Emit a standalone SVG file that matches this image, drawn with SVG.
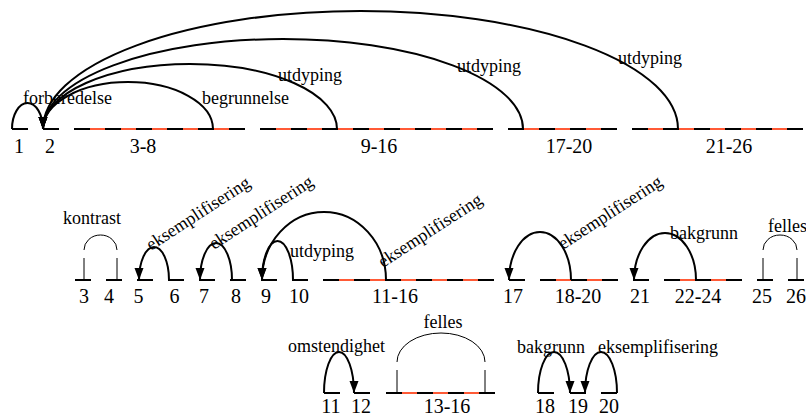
<svg xmlns="http://www.w3.org/2000/svg" width="806" height="417" viewBox="0 0 806 417" font-family="'Liberation Serif', 'Times New Roman', serif">
<style>
text{font-family:'Liberation Serif','Times New Roman',serif;fill:#000}
.lb{font-size:18px}
.nm{font-size:20px;text-anchor:middle}
.seg{stroke:#000;stroke-width:2;fill:none}
.red{stroke:#ff5a36;stroke-width:2;fill:none;stroke-dasharray:15 16}
.arc{stroke:#000;stroke-width:2;fill:none;marker-end:url(#ah)}
.thin{stroke:#000;stroke-width:1;fill:none}
</style>
<defs>
<marker id="ah" markerUnits="userSpaceOnUse" markerWidth="13" markerHeight="10" refX="12" refY="4.5" orient="auto">
<path d="M0,0 L12,4.5 L0,9 z" fill="#000"/>
</marker>
</defs>
<rect width="806" height="417" fill="#fff"/>

<g id="row1">
<g id="n1"><line class="seg" x1="12" y1="129" x2="28" y2="129"/><text class="nm" x="19" y="153">1</text></g>
<g id="n2"><line class="seg" x1="43" y1="129" x2="59" y2="129"/><text class="nm" x="50" y="153">2</text></g>
<g id="n3-8"><line class="seg" x1="74" y1="129" x2="245" y2="129"/><line class="red" x1="90" y1="129" x2="229" y2="129"/><text class="nm" x="143" y="153">3-8</text></g>
<g id="n9-16"><line class="seg" x1="260" y1="129" x2="493" y2="129"/><line class="red" x1="276" y1="129" x2="477" y2="129"/><text class="nm" x="379" y="153">9-16</text></g>
<g id="n17-20"><line class="seg" x1="508" y1="129" x2="617" y2="129"/><line class="red" x1="524" y1="129" x2="601" y2="129"/><text class="nm" x="569" y="153">17-20</text></g>
<g id="n21-26"><line class="seg" x1="632" y1="129" x2="803" y2="129"/><line class="red" x1="648" y1="129" x2="787" y2="129"/><text class="nm" x="729" y="153">21-26</text></g>
</g>

<g id="row2">
<g id="m3"><line class="seg" x1="75" y1="280" x2="91" y2="280"/><text class="nm" x="84" y="303">3</text></g>
<g id="m4"><line class="seg" x1="106" y1="280" x2="122" y2="280"/><text class="nm" x="109" y="303">4</text></g>
<g id="m5"><line class="seg" x1="137" y1="280" x2="153" y2="280"/><text class="nm" x="138.5" y="303">5</text></g>
<g id="m6"><line class="seg" x1="168" y1="280" x2="184" y2="280"/><text class="nm" x="174.5" y="303">6</text></g>
<g id="m7"><line class="seg" x1="199" y1="280" x2="215" y2="280"/><text class="nm" x="204" y="303">7</text></g>
<g id="m8"><line class="seg" x1="230" y1="280" x2="246" y2="280"/><text class="nm" x="236" y="303">8</text></g>
<g id="m9"><line class="seg" x1="261" y1="280" x2="277" y2="280"/><text class="nm" x="266" y="303">9</text></g>
<g id="m10"><line class="seg" x1="292" y1="280" x2="308" y2="280"/><text class="nm" x="299" y="303">10</text></g>
<g id="m11-16"><line class="seg" x1="323" y1="280" x2="494" y2="280"/><line class="red" x1="339" y1="280" x2="478" y2="280"/><text class="nm" x="395" y="303">11-16</text></g>
<g id="m17"><line class="seg" x1="509" y1="280" x2="525" y2="280"/><text class="nm" x="513" y="303">17</text></g>
<g id="m18-20"><line class="seg" x1="540" y1="280" x2="618" y2="280"/><line class="red" x1="556" y1="280" x2="602" y2="280"/><text class="nm" x="578" y="303">18-20</text></g>
<g id="m21"><line class="seg" x1="633" y1="280" x2="649" y2="280"/><text class="nm" x="640" y="303">21</text></g>
<g id="m22-24"><line class="seg" x1="664" y1="280" x2="742" y2="280"/><line class="red" x1="680" y1="280" x2="726" y2="280"/><text class="nm" x="698" y="303">22-24</text></g>
<g id="m25"><line class="seg" x1="757" y1="280" x2="773" y2="280"/><text class="nm" x="762" y="303">25</text></g>
<g id="m26"><line class="seg" x1="788" y1="280" x2="804" y2="280"/><text class="nm" x="796" y="303">26</text></g>
</g>

<g id="row3">
<g id="b11"><line class="seg" x1="324" y1="393" x2="340" y2="393"/><text class="nm" x="331" y="413">11</text></g>
<g id="b12"><line class="seg" x1="354" y1="393" x2="370" y2="393"/><text class="nm" x="361" y="413">12</text></g>
<g id="b13-16"><line class="seg" x1="386" y1="393" x2="495" y2="393"/><line class="red" x1="402" y1="393" x2="479" y2="393"/><text class="nm" x="447" y="413">13-16</text></g>
<g id="b18"><line class="seg" x1="538" y1="393" x2="554" y2="393"/><text class="nm" x="545" y="413">18</text></g>
<g id="b19"><line class="seg" x1="570" y1="393" x2="586" y2="393"/><text class="nm" x="578" y="413">19</text></g>
<g id="b20"><line class="seg" x1="601" y1="393" x2="617" y2="393"/><text class="nm" x="609" y="413">20</text></g>
</g>

<g id="connectors">
<path class="arc" d="M12,129 A15.5,26 0 0 1 43,129"/>
<path class="arc" d="M213,129 A85,47 0 0 0 43,129"/>
<path class="arc" d="M337,129 A147,65 0 0 0 43,129"/>
<path class="arc" d="M523,129 A240,90 0 0 0 43,129"/>
<path class="arc" d="M678,129 A317.5,118 0 0 0 43,129"/>

<line class="thin" x1="84" y1="258" x2="84" y2="280"/>
<line class="thin" x1="117" y1="258" x2="117" y2="280"/>
<path class="thin" d="M84,250 A16.5,15 0 0 1 117,250"/>
<path class="arc" d="M169,280 A15,33 0 0 0 139,280"/>
<path class="arc" d="M232,280 A16,37 0 0 0 200,280"/>
<path class="arc" d="M293,280 A15.5,39 0 0 0 262,280"/>
<path class="arc" d="M386,280 A62,68 0 0 0 262,280"/>
<path class="arc" d="M571,280 A31,48 0 0 0 509,280"/>
<path class="arc" d="M696,280 A31,47 0 0 0 634,280"/>
<line class="thin" x1="763" y1="258" x2="763" y2="280"/>
<line class="thin" x1="797" y1="258" x2="797" y2="280"/>
<path class="thin" d="M763,250 A17,15 0 0 1 797,250"/>

<path class="arc" d="M324,393 A15,41 0 0 1 354,393"/>
<line class="thin" x1="397" y1="370" x2="397" y2="393"/>
<line class="thin" x1="485" y1="370" x2="485" y2="393"/>
<path class="thin" d="M397,362 A44,29 0 0 1 485,362"/>
<path class="arc" d="M538,393 A16,41 0 0 1 570,393"/>
<path class="arc" d="M617,393 A16,41 0 0 0 585,393"/>
</g>

<g id="labels">
<text class="lb" x="23" y="104">forberedelse</text>
<text class="lb" x="202" y="104">begrunnelse</text>
<text class="lb" x="278" y="81">utdyping</text>
<text class="lb" x="457" y="72">utdyping</text>
<text class="lb" x="618" y="64">utdyping</text>
<text class="lb" x="63" y="224">kontrast</text>
<text class="lb" transform="translate(151,251) rotate(-33)">eksemplifisering</text>
<text class="lb" transform="translate(214,250) rotate(-33)">eksemplifisering</text>
<text class="lb" x="290" y="257">utdyping</text>
<text class="lb" transform="translate(383,268) rotate(-33)">eksemplifisering</text>
<text class="lb" transform="translate(563,250) rotate(-33)">eksemplifisering</text>
<text class="lb" x="670" y="239">bakgrunn</text>
<text class="lb" x="768" y="232">felles</text>
<text class="lb" x="288" y="352">omstendighet</text>
<text class="lb" x="443" y="328" text-anchor="middle">felles</text>
<text class="lb" x="517" y="353">bakgrunn</text>
<text class="lb" x="598" y="353">eksemplifisering</text>
</g>
</svg>
